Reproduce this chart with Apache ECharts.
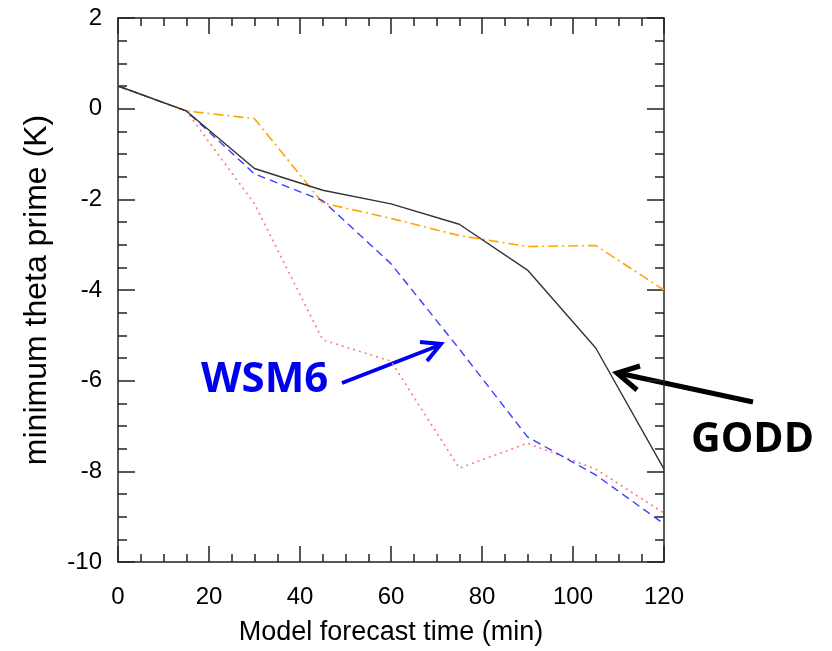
<!DOCTYPE html>
<html>
<head>
<meta charset="utf-8">
<script src="https://cdn.jsdelivr.net/npm/echarts@6/dist/echarts.min.js"></script>
<style>
  html, body { margin: 0; padding: 0; background: #fff; }
  #main { width: 832px; height: 651px; }
</style>
</head>
<body>
<div id="main"></div>
<script>
// forecast times (min)
const times = [0, 15, 30, 45, 60, 75, 90, 105, 120];
// minimum theta prime (K) per run
const godd = [0.5, -0.05, -1.32, -1.8, -2.1, -2.55, -3.56, -5.28, -7.95];
const wsm6 = [0.5, -0.05, -1.44, -2.03, -3.42, -5.3, -7.24, -8.08, -9.16];
const runOrange = [0.5, -0.05, -0.22, -2.08, -2.42, -2.8, -3.04, -3.02, -4.0];
const runRed = [0.5, -0.05, -2.1, -5.1, -5.57, -7.93, -7.38, -7.95, -8.92];

const pairs = (ys) => times.map((t, i) => [t, ys[i]]);

var myChart = echarts.init(document.getElementById('main'));

const font = '"Liberation Sans", Arial, sans-serif';
const tickStyle = { color: '#222', width: 1.5 };

const xBase = {
  type: 'value',
  min: 0,
  max: 120,
  interval: 20,
  splitLine: { show: false },
  axisLine: { show: true, onZero: false, lineStyle: { color: '#222', width: 1.5 } },
  axisTick: { show: true, inside: true, length: 16, lineStyle: tickStyle },
  minorTick: { show: true, splitNumber: 4, length: 8, lineStyle: tickStyle },
};
const yBase = {
  type: 'value',
  min: -10,
  max: 2,
  interval: 2,
  splitLine: { show: false },
  axisLine: { show: true, onZero: false, lineStyle: { color: '#222', width: 1.5 } },
  axisTick: { show: true, inside: true, length: 17, lineStyle: tickStyle },
  minorTick: { show: true, splitNumber: 4, length: 9, lineStyle: tickStyle },
};

const option = {
  animation: false,
  backgroundColor: '#fff',
  grid: { left: 118, right: 168, top: 18, bottom: 86 },
  xAxis: [
    Object.assign({}, xBase, {
      position: 'bottom',
      name: 'Model forecast time (min)',
      nameLocation: 'middle',
      nameGap: 57,
      nameTextStyle: { fontFamily: font, fontSize: 27, color: '#000' },
      axisLabel: { fontFamily: font, fontSize: 24, color: '#000', margin: 23 },
    }),
    Object.assign({}, xBase, { position: 'top', axisLabel: { show: false } }),
  ],
  yAxis: [
    Object.assign({}, yBase, {
      position: 'left',
      name: 'minimum theta prime (K)',
      nameLocation: 'middle',
      nameGap: 65,
      nameTextStyle: { fontFamily: font, fontSize: 32, color: '#000' },
      axisLabel: { fontFamily: font, fontSize: 24, color: '#000', margin: 16 },
    }),
    Object.assign({}, yBase, { position: 'right', axisLabel: { show: false } }),
  ],
  series: [
    {
      name: 'Run (orange)',
      type: 'line',
      data: pairs(runOrange),
      showSymbol: false,
      lineStyle: { color: '#ffa500', width: 1.6, type: [10, 4, 2, 4] },
    },
    {
      name: 'Run (red)',
      type: 'line',
      data: pairs(runRed),
      showSymbol: false,
      lineStyle: { color: '#ff7a7a', width: 1.6, type: [2, 4] },
    },
    {
      name: 'WSM6',
      type: 'line',
      data: pairs(wsm6),
      showSymbol: false,
      lineStyle: { color: '#3c3cff', width: 1.4, type: [8, 5] },
    },
    {
      name: 'GODD',
      type: 'line',
      data: pairs(godd),
      showSymbol: false,
      lineStyle: { color: '#333', width: 1.4, type: 'solid' },
    },
  ],
  graphic: [
    {
      type: 'text',
      left: 201,
      top: 359,
      style: {
        text: 'WSM6',
        fill: '#0000f0',
        font: 'bold 42px "Open Sans", sans-serif',
      },
    },
    {
      type: 'polyline',
      shape: { points: [[342, 383], [440, 345]] },
      style: { stroke: '#0000f0', lineWidth: 4, fill: null },
    },
    {
      type: 'polyline',
      shape: { points: [[420, 342], [441, 344], [427, 361]] },
      style: { stroke: '#0000f0', lineWidth: 4, fill: null, lineJoin: 'miter' },
    },
    {
      type: 'text',
      left: 691,
      top: 420,
      style: {
        text: 'GODD',
        fill: '#000',
        font: 'bold 41px "Open Sans", sans-serif',
      },
    },
    {
      type: 'polyline',
      shape: { points: [[753, 402], [618, 373]] },
      style: { stroke: '#000', lineWidth: 5, fill: null },
    },
    {
      type: 'polyline',
      shape: { points: [[640, 366], [617, 373], [637, 390]] },
      style: { stroke: '#000', lineWidth: 5, fill: null, lineJoin: 'miter' },
    },
  ],
};

myChart.setOption(option);
</script>
</body>
</html>
